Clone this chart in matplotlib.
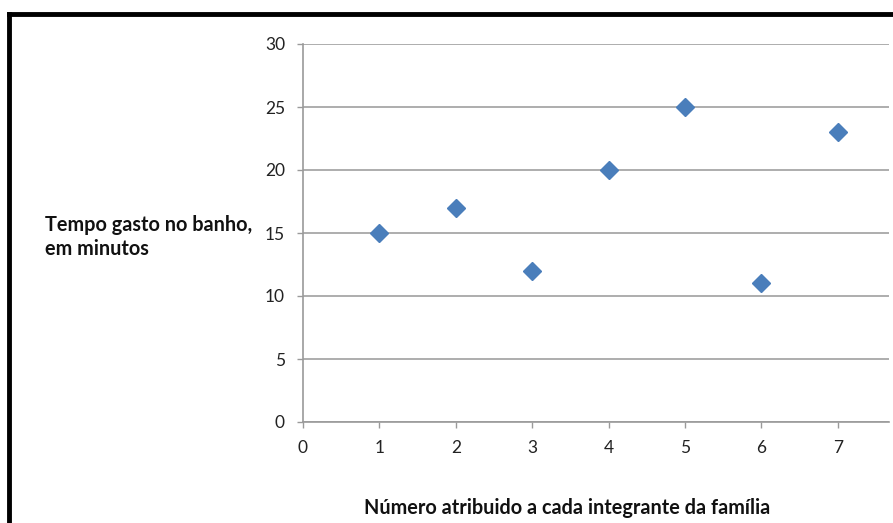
import matplotlib.pyplot as plt
from matplotlib.lines import Line2D

# membros da família e tempo de banho (min)
membros = [1, 2, 3, 4, 5, 6, 7]
tempos = [15, 17, 12, 20, 25, 11, 23]
yticks = [0, 5, 10, 15, 20, 25, 30]
xticks = [0, 1, 2, 3, 4, 5, 6, 7]

W, H = 893, 523
plt.rcParams['font.family'] = ['Lato', 'DejaVu Sans']

fig = plt.figure(figsize=(W / 100, H / 100), dpi=100)
ax = fig.add_axes([303 / W, 1 - 422 / H, (889 - 303) / W, (422 - 44) / H])

ax.plot(membros, tempos, linestyle='none', marker='D', markersize=9,
        color='#4a7ebb', zorder=3)

ax.set_xlim(0, (889 - 303) / 76.4)
ax.set_ylim(0, 30)
ax.set_xticks(xticks)
ax.set_yticks(yticks)
ax.yaxis.grid(True, color='#a0a0a0', linewidth=1.2)
ax.set_axisbelow(True)
for s in ['top', 'right']:
    ax.spines[s].set_visible(False)
for s in ['left', 'bottom']:
    ax.spines[s].set_color('#9a9a9a')
    ax.spines[s].set_linewidth(1.2)
ax.tick_params(axis='y', direction='out', length=4, width=1, color='#9a9a9a',
               pad=9, labelsize=12.5, labelcolor='#222222')
ax.tick_params(axis='x', direction='out', length=4, width=1, color='#9a9a9a',
               pad=9, labelsize=12.5, labelcolor='#222222')

fig.text(45 / W, 1 - 237 / H, 'Tempo gasto no banho,\nem minutos', ha='left',
         va='center', fontsize=14.3, fontweight='bold', color='#111111',
         linespacing=1.3)
fig.text(567 / W, 1 - 508 / H, 'Número atribuido a cada integrante da família',
         ha='center', va='center', fontsize=14.3, fontweight='bold',
         color='#111111')

# moldura preta (topo e esquerda)
fig.add_artist(Line2D([8.5 / W, 1], [1 - 14 / H, 1 - 14 / H], color='black',
                      linewidth=3.5, transform=fig.transFigure,
                      solid_capstyle='projecting'))
fig.add_artist(Line2D([8.5 / W, 8.5 / W], [0, 1 - 14 / H], color='black',
                      linewidth=3.5, transform=fig.transFigure,
                      solid_capstyle='projecting'))

fig.savefig('out.png', dpi=100)
